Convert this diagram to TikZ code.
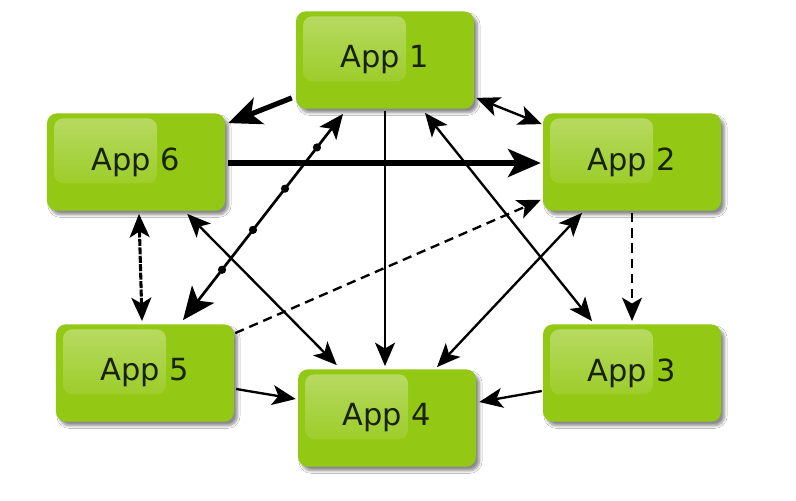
\documentclass[tikz,border=0pt]{standalone}
\usepackage{fontspec}
\setmainfont{DejaVu Sans}
\usetikzlibrary{arrows.meta,calc,fadings,shadows.blur}
\tikzfading[name=glossfade, top color=transparent!65, bottom color=transparent!100]
\definecolor{appgreen}{RGB}{147,200,20}
\definecolor{apptext}{RGB}{24,34,6}
\begin{document}
\begin{tikzpicture}[x=0.03cm,y=-0.03cm,
  appbox/.style={rectangle, rounded corners=0.3cm, fill=appgreen,
    minimum width=5.34cm, minimum height=2.92cm, inner sep=0pt,
    text=apptext, font=\fontsize{26}{30}\selectfont,
    blur shadow={shadow xshift=3pt, shadow yshift=-3.5pt, shadow blur steps=8, shadow opacity=45},
    path picture={\fill[white, path fading=glossfade, rounded corners=0.28cm]
      ($(path picture bounding box.north west)+(7,5)$) rectangle
      ($(path picture bounding box.north west)+(110,70)$);}},
  thin/.style={line width=2pt},
  thick/.style={line width=4.4pt},
  thintip/.tip={Stealth[length=20pt,width=17pt,inset=5pt]},
  bigtip/.tip={Stealth[length=28pt,width=24pt,inset=7pt]},
  dashedline/.style={thin, dash pattern=on 8pt off 5pt},
  dotn/.style={circle, fill=black, inner sep=0pt, minimum size=7pt}
]
\fill[white] (0,0) rectangle (796,500);
\useasboundingbox (0,0) rectangle (796,500);

\node[appbox] (a1) at (385,60) {App 1};
\node[appbox] (a6) at (136,162) {App 6};
\node[appbox] (a2) at (632,162) {App 2};
\node[appbox] (a5) at (145,373) {App 5};
\node[appbox] (a4) at (387,418) {App 4};
\node[appbox] (a3) at (632,373) {App 3};

% thick arrows
\draw[thick, -{bigtip}] ($(a1.south west)+(-4,-11)$) -- ($(a6.north east)+(3,10)$);
\draw[thick, -{bigtip}] ($(a6.east)+(3,1)$) -- ($(a2.west)+(-2,1)$);

% thin double arrows
\draw[thin, {thintip}-{thintip}] ($(a1.south east)+(2,-11)$) -- ($(a2.north west)+(-1,11)$);
\draw[thin, {thintip}-{thintip}] ($(a1.south)+(40,4)$) -- ($(a3.north)+(-40,-3)$);
\draw[thin, {thintip}-{thintip}] ($(a6.south east)+(-38,3)$) -- ($(a4.north west)+(39,-4)$);
\draw[thin, {thintip}-{thintip}] ($(a2.south)+(-50,2)$) -- ($(a4.north)+(50,-2)$);
\draw[line width=2.6pt, dash pattern=on 6pt off 1.2pt, {thintip}-{thintip}] ($(a6.south)+(3,3)$) -- ($(a5.north)+(-3,-3)$);

% thin single arrows
\draw[thin, -{thintip}] ($(a1.south)+(0,2)$) -- ($(a4.north)+(-2,-3)$);
\draw[thin, -{thintip}] ($(a5.east)+(2,16)$) -- ($(a4.west)+(-2,-19)$);
\draw[thin, -{thintip}] ($(a3.west)+(-1,18)$) -- ($(a4.east)+(3,-16)$);

% dashed arrows
\draw[dashedline, -{thintip}] ($(a5.north east)+(1,9)$) -- ($(a2.south west)+(-2,-11)$);
\draw[dashedline, -{thintip}] ($(a2.south)+(0,2)$) -- ($(a3.north)+(0,-3)$);

% dotted-decorated double arrow
\draw[line width=2.3pt, {Stealth[length=21pt,width=18pt,inset=5pt]}-{bigtip}]
  ($(a1.south)+(-42,5)$) -- ($(a5.north)+(38,-4)$)
  node[dotn, pos=0.1625] (d1) {}
  node[dotn, pos=0.3625] (d2) {}
  node[dotn, pos=0.5625] (d3) {}
  node[dotn, pos=0.756] (d4) {};
\end{tikzpicture}
\end{document}
